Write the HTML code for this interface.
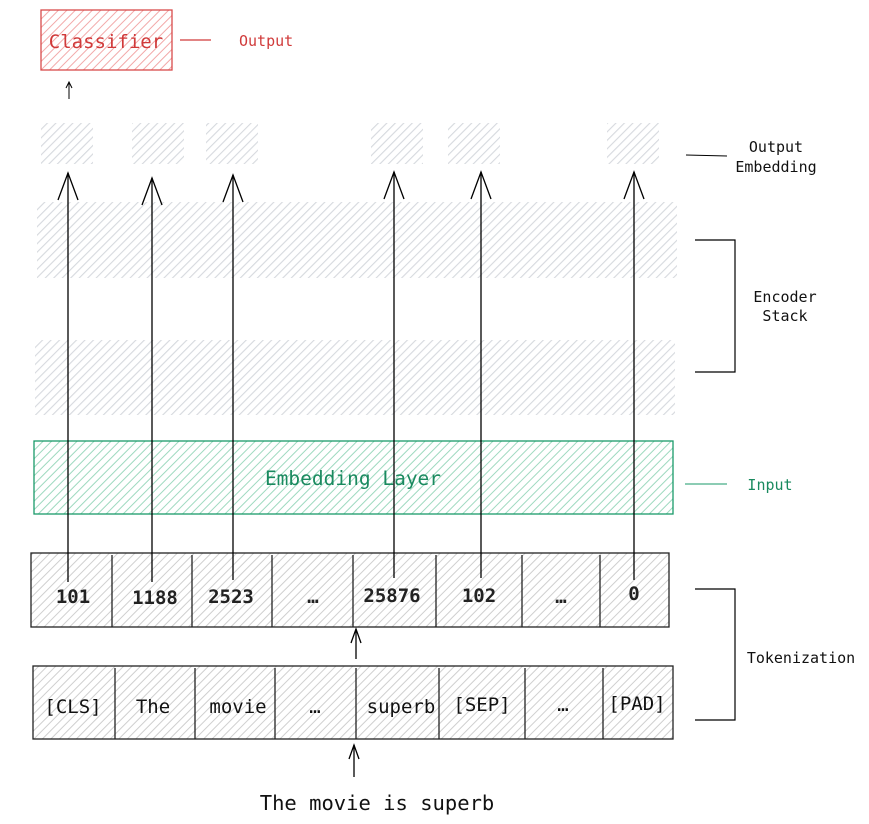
<!DOCTYPE html>
<html><head><meta charset="utf-8"><style>
html,body{margin:0;padding:0;background:#fff;width:869px;height:824px;overflow:hidden}
text{font-family:"DejaVu Sans Mono","Liberation Mono",monospace}
</style></head><body>
<svg width="869" height="824" viewBox="0 0 869 824" xmlns="http://www.w3.org/2000/svg">
<defs>
<pattern id="hg" width="6" height="6" patternUnits="userSpaceOnUse" patternTransform="rotate(45)"><rect width="6" height="6" fill="#fff"/><line x1="0" y1="0" x2="0" y2="6" stroke="#d6d9de" stroke-width="2.2"/></pattern>
<pattern id="hd" width="6" height="6" patternUnits="userSpaceOnUse" patternTransform="rotate(45)"><rect width="6" height="6" fill="#fff"/><line x1="0" y1="0" x2="0" y2="6" stroke="#cfcfcf" stroke-width="2"/></pattern>
<pattern id="hr" width="6" height="6" patternUnits="userSpaceOnUse" patternTransform="rotate(45)"><rect width="6" height="6" fill="#fff"/><line x1="0" y1="0" x2="0" y2="6" stroke="#f2a8a8" stroke-width="2"/></pattern>
<pattern id="hgr" width="6" height="6" patternUnits="userSpaceOnUse" patternTransform="rotate(45)"><rect width="6" height="6" fill="#fff"/><line x1="0" y1="0" x2="0" y2="6" stroke="#9ed9bf" stroke-width="2"/></pattern>
</defs>
<rect x="41" y="10" width="131" height="60" fill="url(#hr)" stroke="#d84b4b" stroke-width="1.3"/>
<text x="106" y="48" text-anchor="middle" font-size="19" fill="#d03a3a">Classifier</text>
<line x1="180" y1="40" x2="211" y2="40" stroke="#d03a3a" stroke-width="1.2"/>
<text x="239" y="46" font-size="15" fill="#d03a3a">Output</text>
<line x1="69" y1="99" x2="69" y2="82" stroke="#000" stroke-width="1"/>
<path d="M66 88 L69 82 L72 88" fill="none" stroke="#000"/>
<g fill="url(#hg)">
<rect x="41" y="123" width="52" height="41"/><rect x="132" y="123" width="52" height="41"/><rect x="206" y="123" width="52" height="41"/>
<rect x="371" y="123" width="52" height="41"/><rect x="448" y="123" width="52" height="41"/><rect x="607" y="123" width="52" height="41"/>
</g>
<line x1="686" y1="155" x2="727" y2="156" stroke="#000"/>
<text x="776" y="152" text-anchor="middle" font-size="15" fill="#111">Output</text>
<text x="776" y="172" text-anchor="middle" font-size="15" fill="#111">Embedding</text>
<rect x="37" y="202" width="640" height="76" fill="url(#hg)"/>
<rect x="35" y="340" width="640" height="75" fill="url(#hg)"/>
<path d="M695 240 H735 V372 H695" fill="none" stroke="#000" stroke-width="1.2"/>
<text x="785" y="302" text-anchor="middle" font-size="15" fill="#111">Encoder</text>
<text x="785" y="321" text-anchor="middle" font-size="15" fill="#111">Stack</text>
<rect x="34" y="441" width="639" height="73" fill="url(#hgr)" stroke="#1a9a6a" stroke-width="1.3"/>
<text x="353" y="485" text-anchor="middle" font-size="19.5" fill="#1a8a5f">Embedding Layer</text>
<line x1="685" y1="484" x2="727" y2="484" stroke="#1a9a6a"/>
<text x="770" y="490" text-anchor="middle" font-size="15" fill="#1a8a5f">Input</text>
<rect x="31" y="553" width="638" height="74" fill="url(#hd)" stroke="#222" stroke-width="1.3"/>
<g stroke="#222" stroke-width="1.3">
<line x1="112" y1="555" x2="112" y2="627"/><line x1="192" y1="555" x2="192" y2="627"/><line x1="272" y1="555" x2="272" y2="627"/>
<line x1="353" y1="555" x2="353" y2="627"/><line x1="436" y1="555" x2="436" y2="627"/><line x1="522" y1="555" x2="522" y2="627"/><line x1="600" y1="555" x2="600" y2="627"/>
</g>
<g font-size="19" text-anchor="middle" font-weight="bold" fill="#222">
<text x="73" y="603">101</text><text x="155" y="604">1188</text><text x="231" y="603">2523</text><text x="313" y="603">…</text>
<text x="392" y="602">25876</text><text x="479" y="602">102</text><text x="561" y="603">…</text><text x="634" y="600">0</text>
</g>
<rect x="33" y="666" width="640" height="73" fill="url(#hd)" stroke="#222" stroke-width="1.3"/>
<g stroke="#222" stroke-width="1.3">
<line x1="115" y1="668" x2="115" y2="739"/><line x1="195" y1="668" x2="195" y2="739"/><line x1="275" y1="668" x2="275" y2="739"/>
<line x1="356" y1="668" x2="356" y2="739"/><line x1="439" y1="668" x2="439" y2="739"/><line x1="525" y1="668" x2="525" y2="739"/><line x1="603" y1="668" x2="603" y2="739"/>
</g>
<g font-size="19" text-anchor="middle" fill="#111">
<text x="73" y="713">[CLS]</text><text x="153" y="713">The</text><text x="238" y="713">movie</text><text x="315" y="713">…</text>
<text x="401" y="713">superb</text><text x="482" y="711">[SEP]</text><text x="563" y="711">…</text><text x="637" y="710">[PAD]</text>
</g>
<path d="M695 589 H735 V720 H695" fill="none" stroke="#000" stroke-width="1.2"/>
<text x="801" y="663" text-anchor="middle" font-size="15" fill="#111">Tokenization</text>
<g stroke="#000" stroke-width="1.3" fill="none">
<line x1="68" y1="582" x2="68" y2="173"/><path d="M58 200 L68 173 L78 200"/>
<line x1="152" y1="582" x2="152" y2="178"/><path d="M142 205 L152 178 L162 205"/>
<line x1="233" y1="580" x2="233" y2="175"/><path d="M223 202 L233 175 L243 202"/>
<line x1="394" y1="578" x2="394" y2="172"/><path d="M384 199 L394 172 L404 199"/>
<line x1="481" y1="578" x2="481" y2="172"/><path d="M471 199 L481 172 L491 199"/>
<line x1="634" y1="580" x2="634" y2="172"/><path d="M624 199 L634 172 L644 199"/>
<line x1="356" y1="659" x2="356" y2="629"/><path d="M351 643 L356 629 L361 643"/>
<line x1="354" y1="777" x2="354" y2="745"/><path d="M349 759 L354 745 L359 759"/>
</g>
<text x="377" y="810" text-anchor="middle" font-size="20.5" fill="#111">The movie is superb</text>
</svg>
</body></html>
